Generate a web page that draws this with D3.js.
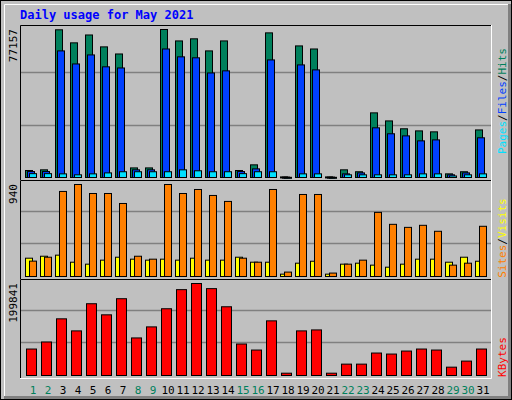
<!DOCTYPE html>
<html><head><meta charset="utf-8">
<script src="https://cdn.jsdelivr.net/npm/d3@7"></script>
<style>body{margin:0;background:#fff}</style>
</head><body>
<div class="visual"></div>
<script>
const days = d3.range(1, 32);
const weekends = [1, 2, 8, 9, 15, 16, 22, 23, 29, 30];
const hits = [3650,4000,77000,70200,74300,68100,64400,5000,5000,77157,71200,72300,66000,71200,3650,6600,75400,300,68600,67000,300,4000,3000,33700,29500,25400,24300,23800,1900,3000,24800];
const files = [3100,3100,66000,59200,63900,57700,57100,4000,4000,67000,62900,62400,54500,55600,3100,4500,61300,200,58700,56100,200,1900,2400,25900,22800,21700,19100,19600,1400,2400,20700];
const pages = [2000,2000,1900,1400,1900,2400,3000,3000,3000,3000,4000,3500,3000,3000,2000,3000,3000,100,1900,1900,100,1400,1400,1400,1400,1400,1900,1900,800,1400,1900];
const sites = [187,207,218,146,126,167,197,177,167,177,167,187,167,167,197,146,146,24,136,156,24,126,136,116,95,126,177,177,146,197,156];
const visits = [157,197,869,940,848,848,746,207,177,940,848,889,828,767,187,146,889,45,838,838,35,126,167,655,533,502,523,462,116,136,513];
const kbytes = [57500,72800,123100,96900,155900,131800,166800,81600,105600,145000,186500,199841,188700,149300,68400,55300,118700,5000,96900,99000,5000,24700,24700,48800,46600,53100,57500,55300,18100,31300,57500];

const W = 512, H = 400;
const svg = d3.select(".visual").append("svg").attr("width", W).attr("height", H);
const font = "DejaVu Sans Mono";

// frame
svg.append("rect").attr("x", 0.5).attr("y", 0.5).attr("width", W - 1).attr("height", H - 1)
  .attr("fill", "#c0c0c0").attr("stroke", "#000");
svg.append("path").attr("d", "M4.5,396V4.5H508").attr("fill", "none").attr("stroke", "#fff");
svg.append("path").attr("d", "M4,397.5H509.5V4").attr("fill", "none").attr("stroke", "#808080").attr("stroke-width", 3);

svg.append("text").attr("x", 20).attr("y", 19).text("Daily usage for May 2021")
  .attr("font-family", font).attr("font-weight", "bold").attr("font-size", 12).attr("fill", "#0000ff");

const x = d3.scaleBand().domain(days).range([25, 490]).paddingInner(0);
const left = 20, right = 491;

function panel(top, bottom, max, label) {
  svg.append("path").attr("d", `M${left + 0.5},${bottom}V${top + 0.5}H${right}`).attr("fill", "none").attr("stroke", "#000");
  svg.append("path").attr("d", `M${left},${bottom + 0.5}H${right + 0.5}V${top}`).attr("fill", "none").attr("stroke", "#fff");
  const y = d3.scaleLinear().domain([0, max]).range([bottom - 3, top + 4]);
  [1 / 3, 2 / 3].forEach(f => {
    const gy = Math.round(y(max * f * 1.06)) + 0.5;
    svg.append("line").attr("x1", left + 1).attr("x2", right).attr("y1", gy).attr("y2", gy)
      .attr("stroke", "#808080").attr("stroke-width", 1.5);
  });
  svg.append("text").attr("transform", `translate(17,${top + 4}) rotate(-90)`)
    .attr("text-anchor", "end").attr("font-family", font).attr("font-size", 11).text(label);
  return y;
}

function bars(y, data, off, w, color) {
  svg.append("g").selectAll("rect").data(data).enter().append("rect")
    .attr("x", (d, i) => x(days[i]) + off + 0.5)
    .attr("y", d => y(d) + 0.5)
    .attr("width", w)
    .attr("height", d => Math.max(1, y(0) - y(d)))
    .attr("fill", color).attr("stroke", "#000");
}

const y1 = panel(25, 180, 77157, "77157");
bars(y1, hits, 0, 7, "#00805c");
bars(y1, files, 2, 7, "#0040ff");
bars(y1, pages, 4, 7, "#00e0ff");

const y2 = panel(180, 279, 940, "940");
bars(y2, sites, 0, 7, "#ffff00");
bars(y2, visits, 4, 7, "#ff8000");

const y3 = panel(279, 378, 199841, "199841");
bars(y3, kbytes, 1, 10, "#ff0000");

svg.append("g").selectAll("text").data(days).enter().append("text")
  .attr("x", d => x(d) + 8).attr("y", 394).attr("text-anchor", "middle")
  .attr("font-family", font).attr("font-size", 11)
  .attr("fill", d => weekends.includes(d) ? "#00805c" : "#000").text(d => d);

function sideLabel(cy, parts) {
  const t = svg.append("text").attr("transform", `translate(506,${cy}) rotate(-90)`)
    .attr("text-anchor", "middle").attr("font-family", font).attr("font-size", 11);
  parts.forEach(([s, c]) => t.append("tspan").attr("fill", c).text(s));
}
sideLabel(101, [["Pages", "#00e0ff"], ["/", "#000"], ["Files", "#0040ff"], ["/", "#000"], ["Hits", "#00805c"]]);
sideLabel(238, [["Sites", "#ff8000"], ["/", "#000"], ["Visits", "#ffff00"]]);
sideLabel(357, [["KBytes", "#ff0000"]]);
</script>
</body></html>
